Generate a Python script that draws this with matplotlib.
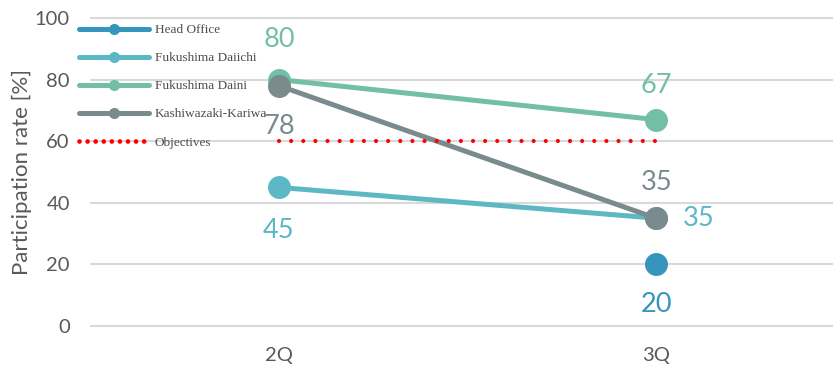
import matplotlib
matplotlib.use("Agg")
import matplotlib.pyplot as plt
from matplotlib.lines import Line2D
import numpy as np

categories = ["2Q", "3Q"]
head_office = [np.nan, 20]
daiichi = [45, 35]
daini = [80, 67]
kashiwazaki = [78, 35]
objectives = [60, 60]

series_names = ["Head Office", "Fukushima Daiichi", "Fukushima Daini", "Kashiwazaki-Kariwa"]
series_vals = [head_office, daiichi, daini, kashiwazaki]
colors = ["#3595bd", "#5bb8c4", "#72bfa5", "#7a8b8d"]

# label offsets in pixels (dx, dy) for each series at each category
label_offsets = {
    "Head Office": [None, (0, -40)],
    "Fukushima Daiichi": [(0, -43), (42, 0)],
    "Fukushima Daini": [(0, 40), (0, 34)],
    "Kashiwazaki-Kariwa": [(0, -41), (0, 36)],
}

plt.rcParams['font.family'] = ['Lato', 'DejaVu Sans']
DPI = 100
fig = plt.figure(figsize=(8.33, 3.65), dpi=DPI)
ax = fig.add_axes([90/833, 1 - 332.2/365, 1 - 90/833, (332.2 - 11.8)/365])

x = np.arange(len(categories))
handles = []
for name, vals, c in zip(series_names, series_vals, colors):
    h, = ax.plot(x, vals, color=c, lw=3.6, marker='o', markersize=15.5, label=name,
                 solid_capstyle='round', clip_on=False, zorder=3)
    handles.append(h)
    for i, v in enumerate(vals):
        off = label_offsets[name][i]
        if off is None or np.isnan(v):
            continue
        ax.annotate(f"{v:g}", (x[i], v), xytext=(off[0]*0.72, off[1]*0.72),
                    textcoords='offset points', ha='center', va='center',
                    fontsize=19.5, color=c, zorder=5)

ax.plot(x, objectives, color='#ff0000', lw=3, linestyle=(0, (0.01, 2.9)),
        dash_capstyle='round', label='Objectives', zorder=4)
obj_handle = Line2D([], [], color='#ff0000', lw=3.4, linestyle=(0, (0.01, 1.7)),
                    dash_capstyle='round')
handles.append(obj_handle)

ax.set_xlim(-0.501, 1.469)
ax.set_ylim(-2, 102)
ax.set_yticks(np.arange(0, 101, 20))
ax.set_xticks(x)
ax.set_xticklabels(categories)
ax.grid(axis='y', color='#d9d9d9', lw=1.5)
ax.set_axisbelow(True)
for s in ax.spines.values():
    s.set_visible(False)
ax.tick_params(axis='both', length=0, labelsize=14.5, labelcolor='#595959')
ax.tick_params(axis='y', pad=14.5)
ax.tick_params(axis='x', pad=11)
ax.set_ylabel("Participation rate [%]", fontsize=16, color='#595959', labelpad=2)

leg = ax.legend(handles, series_names + ["Objectives"],
                loc='upper left', bbox_to_anchor=(79/833, 1 - 24/365),
                bbox_transform=fig.transFigure, frameon=False,
                prop={'family': 'Liberation Serif', 'size': 9.5},
                handlelength=5.3, handletextpad=0.45, labelspacing=1.2,
                markerscale=0.45, borderpad=0, borderaxespad=0)
leg.set_zorder(10)
for t in leg.get_texts():
    t.set_color('#4d4d4d')

fig.savefig("out.png", dpi=DPI)
